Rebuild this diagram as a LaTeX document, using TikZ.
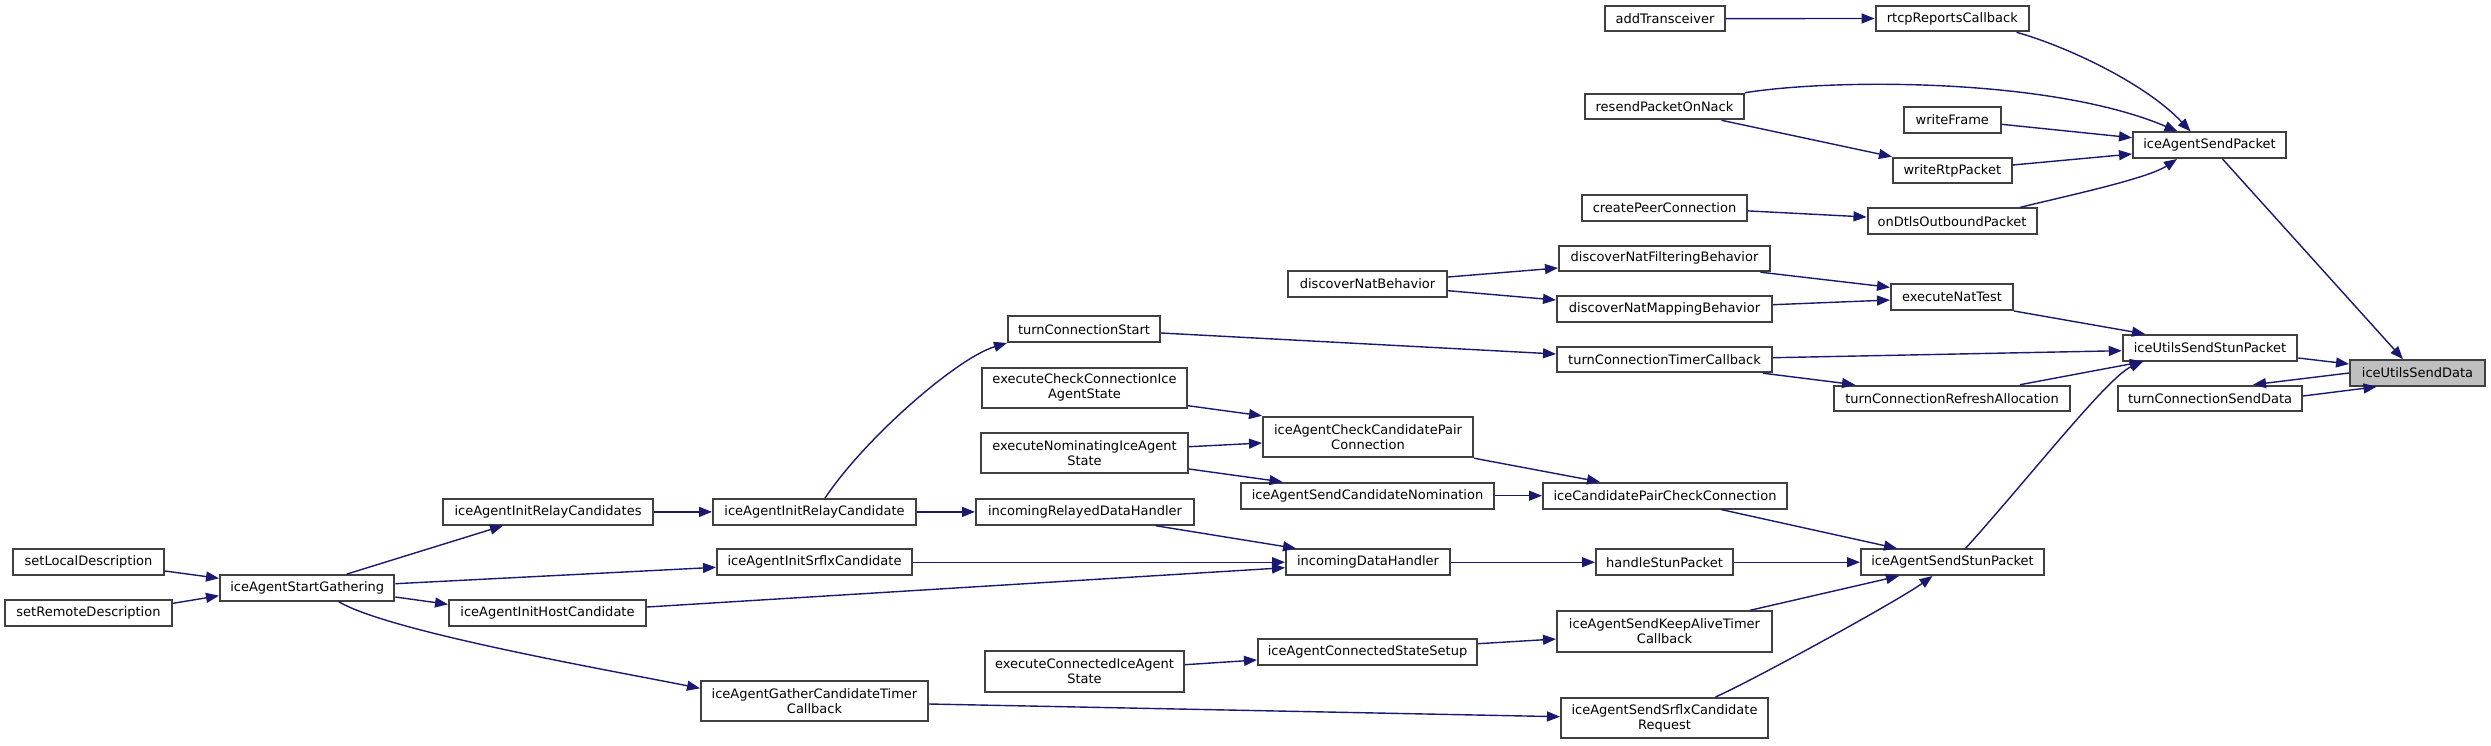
\documentclass[tikz,border=0pt]{standalone}
\usepackage{fontspec}
\setmainfont{DejaVu Sans}
\usepackage{xcolor}
\usepackage{tikz}
\usetikzlibrary{arrows.meta}
\definecolor{edgeblue}{HTML}{191970}
\definecolor{boxborder}{HTML}{404040}
\definecolor{focusgrey}{HTML}{BFBFBF}

\begin{document}
\begin{tikzpicture}[x=1pt, y=-1pt,
    fn/.style={draw=boxborder, fill=white, line width=2pt, inner sep=0pt,
      minimum height=25.6pt, align=center, font=\fontsize{13}{15}\selectfont},
    fntwo/.style={fn, minimum height=40.4pt},
    call/.style={draw=edgeblue, line width=1.4pt,
      -{Triangle[length=13pt, width=10pt, fill=edgeblue]}}]
  \useasboundingbox (0,0) rectangle (2491,745);

  \node[fn, minimum width=120pt] (addTransceiver) at (1665,18.6) {addTransceiver};
  \node[fn, minimum width=153.5pt] (rtcpReportsCallback) at (1952.3,18.5) {rtcpReportsCallback};
  \node[fn, minimum width=159pt] (resendPacketOnNack) at (1664.5,106.5) {resendPacketOnNack};
  \node[fn, minimum width=96.7pt] (writeFrame) at (1952.3,120) {writeFrame};
  \node[fn, minimum width=153pt] (iceAgentSendPacket) at (2209.5,145.2) {iceAgentSendPacket};
  \node[fn, minimum width=118.7pt] (writeRtpPacket) at (1952.3,170.5) {writeRtpPacket};
  \node[fn, minimum width=165pt] (createPeerConnection) at (1664.5,207.9) {createPeerConnection};
  \node[fn, minimum width=169pt] (onDtlsOutboundPacket) at (1952,221.2) {onDtlsOutboundPacket};
  \node[fn, minimum width=211pt] (discoverNatFilteringBehavior) at (1664.5,258.4) {discoverNatFilteringBehavior};
  \node[fn, minimum width=159pt] (discoverNatBehavior) at (1367.5,283.9) {discoverNatBehavior};
  \node[fn, minimum width=122pt] (executeNatTest) at (1952,297.2) {executeNatTest};
  \node[fn, minimum width=215pt] (discoverNatMappingBehavior) at (1664.5,309.2) {discoverNatMappingBehavior};
  \node[fn, minimum width=152pt] (turnConnectionStart) at (1084,329.2) {turnConnectionStart};
  \node[fn, minimum width=174.5pt] (iceUtilsSendStunPacket) at (2210,347.8) {iceUtilsSendStunPacket};
  \node[fn, minimum width=215pt] (turnConnectionTimerCallback) at (1664.5,359.4) {turnConnectionTimerCallback};
  \node[fn, fill=focusgrey, minimum width=135pt] (iceUtilsSendData) at (2417.5,373) {iceUtilsSendData};
  \node[fntwo, minimum width=205pt] (executeCheckConnectionIceAgentState) at (1084.5,387.9) {executeCheckConnectionIce\\AgentState};
  \node[fn, minimum width=236pt] (turnConnectionRefreshAllocation) at (1952,398.5) {turnConnectionRefreshAllocation};
  \node[fn, minimum width=184pt] (turnConnectionSendData) at (2210,398.5) {turnConnectionSendData};
  \node[fntwo, minimum width=210pt] (iceAgentCheckCandidatePairConnection) at (1368,437) {iceAgentCheckCandidatePair\\Connection};
  \node[fntwo, minimum width=207pt] (executeNominatingIceAgentState) at (1084.5,453) {executeNominatingIceAgent\\State};
  \node[fn, minimum width=253pt] (iceAgentSendCandidateNomination) at (1367.5,495.7) {iceAgentSendCandidateNomination};
  \node[fn, minimum width=244pt] (iceCandidatePairCheckConnection) at (1665,495.7) {iceCandidatePairCheckConnection};
  \node[fn, minimum width=210pt] (iceAgentInitRelayCandidates) at (548,511.9) {iceAgentInitRelayCandidates};
  \node[fn, minimum width=203pt] (iceAgentInitRelayCandidate) at (814.5,511.9) {iceAgentInitRelayCandidate};
  \node[fn, minimum width=218pt] (incomingRelayedDataHandler) at (1085,511.9) {incomingRelayedDataHandler};
  \node[fn, minimum width=151pt] (setLocalDescription) at (88.5,562.2) {setLocalDescription};
  \node[fn, minimum width=195pt] (iceAgentInitSrflxCandidate) at (814.5,562.2) {iceAgentInitSrflxCandidate};
  \node[fn, minimum width=164pt] (incomingDataHandler) at (1368,562.2) {incomingDataHandler};
  \node[fn, minimum width=137pt] (handleStunPacket) at (1664.5,562.2) {handleStunPacket};
  \node[fn, minimum width=183pt] (iceAgentSendStunPacket) at (1952.5,562.2) {iceAgentSendStunPacket};
  \node[fn, minimum width=174.4pt] (iceAgentStartGathering) at (307.2,587.9) {iceAgentStartGathering};
  \node[fn, minimum width=167pt] (setRemoteDescription) at (88.5,613.2) {setRemoteDescription};
  \node[fn, minimum width=197pt] (iceAgentInitHostCandidate) at (547.5,613.2) {iceAgentInitHostCandidate};
  \node[fntwo, minimum width=215pt] (iceAgentSendKeepAliveTimerCallback) at (1664.5,631.5) {iceAgentSendKeepAliveTimer\\Callback};
  \node[fn, minimum width=219pt] (iceAgentConnectedStateSetup) at (1367.5,651.9) {iceAgentConnectedStateSetup};
  \node[fntwo, minimum width=199pt] (executeConnectedIceAgentState) at (1084.5,671.5) {executeConnectedIceAgent\\State};
  \node[fntwo, minimum width=227pt] (iceAgentGatherCandidateTimerCallback) at (814.5,701) {iceAgentGatherCandidateTimer\\Callback};
  \node[fntwo, minimum width=207pt] (iceAgentSendSrflxCandidateRequest) at (1664.5,718.2) {iceAgentSendSrflxCandidate\\Request};

  \draw[call] (addTransceiver.east) -- (rtcpReportsCallback.west);
  \draw[call] ([xshift=-13.5pt]rtcpReportsCallback.south east) .. controls +(50,14) and +(-45,-48) .. ([xshift=-19pt]iceAgentSendPacket.north);
  \draw[call] (resendPacketOnNack.north east) .. controls +(87,-14) and +(-127,-54) .. ([xshift=-32pt]iceAgentSendPacket.north);
  \draw[call] ([xshift=57pt]resendPacketOnNack.south) -- (writeRtpPacket.north west);
  \draw[call] ([yshift=-4.3pt]writeFrame.east) -- ([yshift=7.5pt]iceAgentSendPacket.west);
  \draw[call] ([yshift=5.5pt]writeRtpPacket.east) -- ([yshift=-8.8pt]iceAgentSendPacket.west);
  \draw[call] ([yshift=-3pt]createPeerConnection.east) -- ([yshift=4.2pt]onDtlsOutboundPacket.west);
  \draw[call] ([xshift=68pt]onDtlsOutboundPacket.north) .. controls +(40,-10) and +(-30,20) .. ([xshift=-32.5pt]iceAgentSendPacket.south);
  \draw[call] ([xshift=13pt]iceAgentSendPacket.south) -- ([xshift=-14.5pt]iceUtilsSendData.north);
  \draw[call] ([yshift=6.9pt]discoverNatBehavior.east) -- ([yshift=-9.6pt]discoverNatFilteringBehavior.west);
  \draw[call] ([yshift=-6.8pt]discoverNatBehavior.east) -- ([yshift=9.2pt]discoverNatMappingBehavior.west);
  \draw[call] ([xshift=96pt]discoverNatFilteringBehavior.south) -- ([yshift=9.9pt]executeNatTest.west);
  \draw[call] ([yshift=4.5pt]discoverNatMappingBehavior.east) -- ([yshift=-2.8pt]executeNatTest.west);
  \draw[call] (executeNatTest.south east) -- ([xshift=-65pt]iceUtilsSendStunPacket.north);
  \draw[call] ([yshift=-3.8pt]turnConnectionStart.east) -- ([yshift=5.4pt]turnConnectionTimerCallback.west);
  \draw[call] ([yshift=1.7pt]turnConnectionTimerCallback.east) -- ([yshift=-2.9pt]iceUtilsSendStunPacket.west);
  \draw[call] ([xshift=-10pt]turnConnectionTimerCallback.south east) -- ([xshift=22pt]turnConnectionRefreshAllocation.north west);
  \draw[call] ([xshift=68pt]turnConnectionRefreshAllocation.north) -- ([xshift=-67pt]iceUtilsSendStunPacket.south);
  \draw[call] ([yshift=-10.2pt]iceUtilsSendStunPacket.east) -- ([yshift=9pt]iceUtilsSendData.west);
  \draw[call] (iceUtilsSendData.west) -- ([xshift=43pt]turnConnectionSendData.north);
  \draw[call] ([yshift=2.5pt]turnConnectionSendData.east) -- ([xshift=-41pt]iceUtilsSendData.south);
  \draw[call] ([xshift=13pt]iceAgentSendStunPacket.north) .. controls +(64,-71) and +(-35,15) .. ([xshift=-67pt]iceUtilsSendStunPacket.south);
  \draw[call] ([xshift=10.5pt]iceAgentInitRelayCandidate.north) .. controls +(40,-60) and +(-50,15) .. (turnConnectionStart.south west);
  \draw[call] (iceAgentInitRelayCandidates.east) -- (iceAgentInitRelayCandidate.west);
  \draw[call] (iceAgentInitRelayCandidate.east) -- (incomingRelayedDataHandler.west);
  \draw[call] ([xshift=39.5pt]iceAgentStartGathering.north) -- ([xshift=-45pt]iceAgentInitRelayCandidates.south);
  \draw[call] ([yshift=4.2pt]iceAgentStartGathering.east) -- ([yshift=-5.1pt]iceAgentInitSrflxCandidate.west);
  \draw[call] ([yshift=-9.1pt]iceAgentStartGathering.east) -- ([yshift=8.9pt]iceAgentInitHostCandidate.west);
  \draw[call] ([xshift=31.6pt]iceAgentStartGathering.south) .. controls +(50,30) and +(-90,-18) .. ([yshift=12.7pt]iceAgentGatherCandidateTimerCallback.west);
  \draw[call] ([yshift=-8.8pt]setLocalDescription.east) -- ([yshift=9.6pt]iceAgentStartGathering.west);
  \draw[call] ([yshift=9.9pt]setRemoteDescription.east) -- ([yshift=-7.8pt]iceAgentStartGathering.west);
  \draw[call] ([yshift=-17.8pt]executeCheckConnectionIceAgentState.east) -- (iceAgentCheckCandidatePairConnection.north west);
  \draw[call] ([yshift=6.3pt]executeNominatingIceAgentState.east) -- ([yshift=-6pt]iceAgentCheckCandidatePairConnection.west);
  \draw[call] ([yshift=-16pt]executeNominatingIceAgentState.east) -- ([xshift=-85pt]iceAgentSendCandidateNomination.north);
  \draw[call] (iceAgentCheckCandidatePairConnection.south east) -- ([xshift=-65pt]iceCandidatePairCheckConnection.north);
  \draw[call] (iceAgentSendCandidateNomination.east) -- (iceCandidatePairCheckConnection.west);
  \draw[call] ([xshift=56pt]iceCandidatePairCheckConnection.south) -- ([xshift=-55.5pt]iceAgentSendStunPacket.north);
  \draw[call] ([xshift=70.6pt]incomingRelayedDataHandler.south) -- ([xshift=-72pt]incomingDataHandler.north);
  \draw[call] (iceAgentInitSrflxCandidate.east) -- (incomingDataHandler.west);
  \draw[call] ([yshift=6.2pt]iceAgentInitHostCandidate.east) -- ([yshift=-5.5pt]incomingDataHandler.west);
  \draw[call] (incomingDataHandler.east) -- (handleStunPacket.west);
  \draw[call] (handleStunPacket.east) -- (iceAgentSendStunPacket.west);
  \draw[call] ([xshift=85.5pt]iceAgentSendKeepAliveTimerCallback.north) -- ([xshift=-53.5pt]iceAgentSendStunPacket.south);
  \draw[call] ([xshift=51pt]iceAgentSendSrflxCandidateRequest.north) .. controls +(40,-18) and +(-35,25) .. ([xshift=-20pt]iceAgentSendStunPacket.south);
  \draw[call] ([yshift=6.8pt]executeConnectedIceAgentState.east) -- ([yshift=-8.1pt]iceAgentConnectedStateSetup.west);
  \draw[call] ([yshift=8.2pt]iceAgentConnectedStateSetup.east) -- ([yshift=-7.5pt]iceAgentSendKeepAliveTimerCallback.west);
  \draw[call] ([yshift=-3pt]iceAgentGatherCandidateTimerCallback.east) -- ([yshift=1.5pt]iceAgentSendSrflxCandidateRequest.west);
\end{tikzpicture}
\end{document}
